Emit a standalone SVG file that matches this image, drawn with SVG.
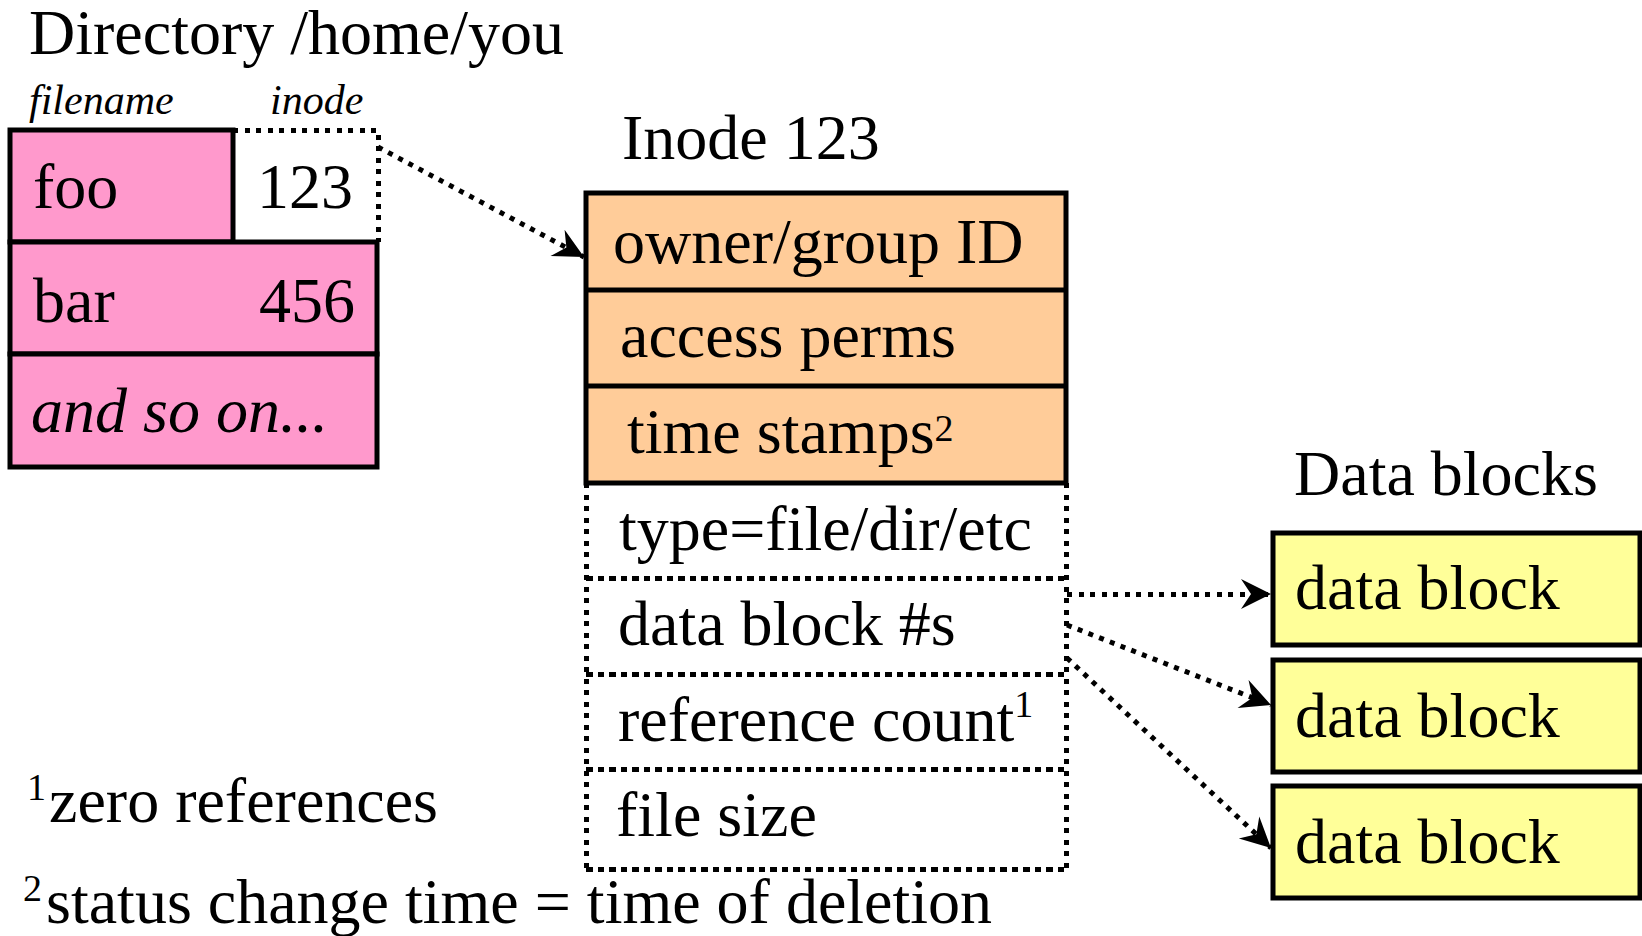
<svg xmlns="http://www.w3.org/2000/svg" width="1642" height="936" viewBox="0 0 1642 936">
<style>
text{font-family:"Liberation Serif","Times New Roman",serif;fill:#000;font-size:64px}
.it{font-style:italic}
.lbl{font-size:42px;font-style:italic}
.sup{font-size:38px}
.solid{stroke:#000;stroke-width:5;stroke-linejoin:miter}
.dot{fill:none;stroke:#000;stroke-width:5;stroke-dasharray:5 6.5}
.dash{fill:none;stroke:#000;stroke-width:5;stroke-dasharray:6.5 5;shape-rendering:crispEdges}
.crisp{shape-rendering:crispEdges}
.pink{fill:#FF99CC}
.orange{fill:#FFCC99}
.yellow{fill:#FFFF99}
</style>
<defs>
<marker id="arr" viewBox="-32 -17 34 34" markerWidth="34" markerHeight="34" refX="0" refY="0" orient="auto" markerUnits="userSpaceOnUse">
<path d="M0,0 L-30,-15 L-20,0 L-30,15 Z" fill="#000"/>
</marker>
</defs>
<rect width="1642" height="936" fill="#fff"/>
<text x="29" y="54">Directory /home/you</text>
<text class="lbl" x="29" y="114">filename</text>
<text class="lbl" x="270" y="114">inode</text>
<g id="directory">
<path class="dot crisp" d="M233,130 H378 V242"/>
<rect class="solid pink" x="10" y="130" width="223" height="112"/>
<rect class="solid pink" x="10" y="242" width="367" height="112"/>
<rect class="solid pink" x="10" y="354" width="367" height="113"/>
<text x="33" y="208">foo</text>
<text x="353" y="208" text-anchor="end">123</text>
<text x="33" y="322">bar</text>
<text x="355" y="322" text-anchor="end">456</text>
<text class="it" x="31" y="432">and so on...</text>
</g>
<g id="inode">
<text x="622" y="159">Inode 123</text>
<rect class="solid orange" x="586" y="193" width="480" height="290"/>
<line class="solid" x1="586" y1="290" x2="1066" y2="290"/>
<line class="solid" x1="586" y1="386" x2="1066" y2="386"/>
<path class="dot crisp" d="M586,483 V869 M1066,483 V869"/>
<path class="dash" d="M586,578 H1066 M586,674 H1066 M586,769 H1066 M586,869 H1066"/>
<text x="613" y="263">owner/group ID</text>
<text x="620" y="357">access perms</text>
<text x="627" y="453">time stamps<tspan class="sup" dy="-12">2</tspan></text>
<text x="619" y="550">type=file/dir/etc</text>
<text x="618" y="645">data block #s</text>
<text x="618" y="741">reference count<tspan class="sup" dy="-24">1</tspan></text>
<text x="616" y="836">file size</text>
</g>
<g id="datablocks">
<text x="1294" y="495">Data blocks</text>
<g id="block1"><rect class="solid yellow" x="1273" y="533" width="367" height="112"/><text x="1295" y="609">data block</text></g>
<g id="block2"><rect class="solid yellow" x="1273" y="660" width="367" height="112"/><text x="1295" y="737">data block</text></g>
<g id="block3"><rect class="solid yellow" x="1273" y="786" width="367" height="112"/><text x="1295" y="863">data block</text></g>
</g>
<g id="footnotes">
<text x="27" y="822"><tspan class="sup" dy="-22">1</tspan><tspan dx="3" dy="22">zero references</tspan></text>
<text x="23" y="923"><tspan class="sup" dy="-22">2</tspan><tspan dx="4" dy="22">status change time = time of deletion</tspan></text>
</g>
<g id="connectors">
<path class="dot" d="M378,147 L584,257" marker-end="url(#arr)"/>
<path class="dot crisp" d="M1067,594 L1271,594" marker-end="url(#arr)"/>
<path class="dot" d="M1067,625 L1271,705" marker-end="url(#arr)"/>
<path class="dot" d="M1067,658 L1271,848" marker-end="url(#arr)"/>
</g>
</svg>
